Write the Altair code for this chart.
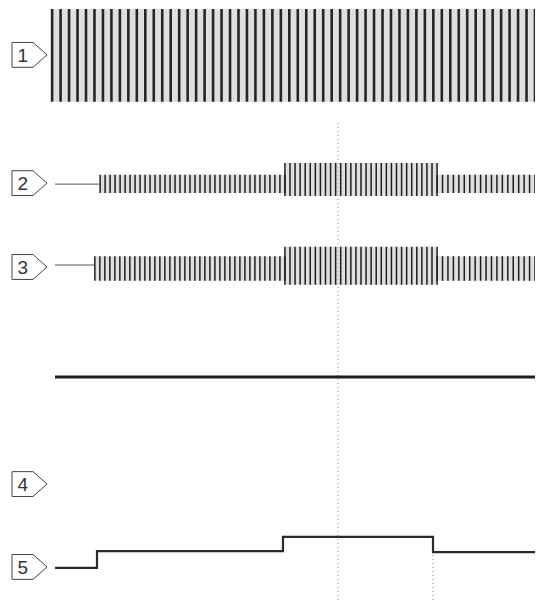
import altair as alt
import pandas as pd
import numpy as np

# ---- channel labels (boxed numbers on the left) ----
labels = ["1", "2", "3", "4", "5"]
label_level = [11.05, 8.45, 6.75, 2.35, 0.67]

# ---- oscillation bursts: channel, start, end, upper, lower, cycle count ----
burst_channel = ["1", "2", "2", "2", "3", "3", "3"]
burst_start = [-0.6, 9.4, 47.9, 79.6, 8.3, 47.9, 79.6]
burst_end = [100.0, 47.9, 79.6, 100.0, 47.9, 79.6, 100.0]
burst_upper = [11.98, 8.62, 8.86, 8.62, 6.97, 7.16, 6.97]
burst_lower = [10.10, 8.25, 8.19, 8.25, 6.47, 6.39, 6.47]
burst_cycles = [57, 37, 30, 18, 38, 30, 18]

# ---- quiet baselines before the bursts ----
flat_channel = ["2", "3"]
flat_start = [0.0, 0.0]
flat_end = [9.4, 8.3]
flat_level = [8.43, 6.79]

# ---- continuous trace (no label) ----
line4_t = [0.0, 100.0]
line4_level = [4.52, 4.52]

# ---- step trace 5 ----
step_t = [0.0, 8.75, 47.5, 78.75, 100.0]
step_level = [0.65, 0.99, 1.28, 0.97, 0.97]

# ---- dotted graticule marks ----
grid_t = [58.96, 78.75]
grid_top = [9.73, 1.21]
grid_bottom = [0.0, 0.0]

xs = alt.Scale(domain=[-9.79, 100], nice=False, zero=False)
ys = alt.Scale(domain=[0, 12], nice=False, zero=False)
X = lambda f: alt.X(f, type="quantitative", scale=xs, axis=None)
Y = lambda f: alt.Y(f, type="quantitative", scale=ys, axis=None)

bursts = pd.DataFrame({
    "ch": burst_channel, "start": burst_start, "end": burst_end,
    "upper": burst_upper, "lower": burst_lower, "cycles": burst_cycles,
})

rows = []
for _, b in bursts.iterrows():
    for t in np.linspace(b["start"], b["end"], int(b["cycles"]) + 1):
        rows.append({"ch": b["ch"], "t": t, "upper": b["upper"], "lower": b["lower"]})
stripes = pd.DataFrame(rows)

band = alt.Chart(bursts).mark_rect(color="#c4c4c4", opacity=0.55).encode(
    x=X("start"), x2="end", y=Y("lower"), y2="upper")

stripe1 = alt.Chart(stripes[stripes.ch == "1"]).mark_rule(color="#262626", strokeWidth=2.6).encode(
    x=X("t"), y=Y("lower"), y2="upper")
stripe23 = alt.Chart(stripes[stripes.ch != "1"]).mark_rule(color="#1e1e1e", strokeWidth=1.5).encode(
    x=X("t"), y=Y("lower"), y2="upper")

flats = alt.Chart(pd.DataFrame({"ch": flat_channel, "s": flat_start, "e": flat_end, "lv": flat_level})
                  ).mark_rule(color="#555", strokeWidth=1).encode(x=X("s"), x2="e", y=Y("lv"))

line4 = alt.Chart(pd.DataFrame({"t": line4_t, "lv": line4_level})).mark_line(
    color="#1e1e1e", strokeWidth=2.8).encode(x=X("t"), y=Y("lv"))

step = alt.Chart(pd.DataFrame({"t": step_t, "lv": step_level})).mark_line(
    color="#2a2a2a", strokeWidth=2.2, interpolate="step-after").encode(x=X("t"), y=Y("lv"))

grid = alt.Chart(pd.DataFrame({"t": grid_t, "top": grid_top, "bot": grid_bottom})).mark_rule(
    color="#888", strokeWidth=1, strokeDash=[1, 3]).encode(x=X("t"), y=Y("bot"), y2="top")

lab = pd.DataFrame({"label": labels, "lv": label_level, "bx": -5.31, "tx": -6.7})
pent = "M-1,-0.71 L0.2,-0.71 L1,0 L0.2,0.71 L-1,0.71 Z"
boxes = alt.Chart(lab).mark_point(shape=pent, size=1225, filled=False, fill="white", fillOpacity=1,
                                  stroke="#444", strokeWidth=1, opacity=1).encode(x=X("bx"), y=Y("lv"))
nums = alt.Chart(lab).mark_text(font="Liberation Sans", fontSize=19, color="#333",
                                align="center", baseline="middle", dy=1).encode(x=X("tx"), y=Y("lv"), text="label")

chart = alt.layer(grid, band, stripe1, stripe23, flats, line4, step, boxes, nums).properties(
    width=527, height=592, autosize=alt.AutoSizeParams(type="none"), padding=0,
    background="white").configure_view(stroke=None)

chart.save("out.html", embed_options={"renderer": "svg", "actions": False})
